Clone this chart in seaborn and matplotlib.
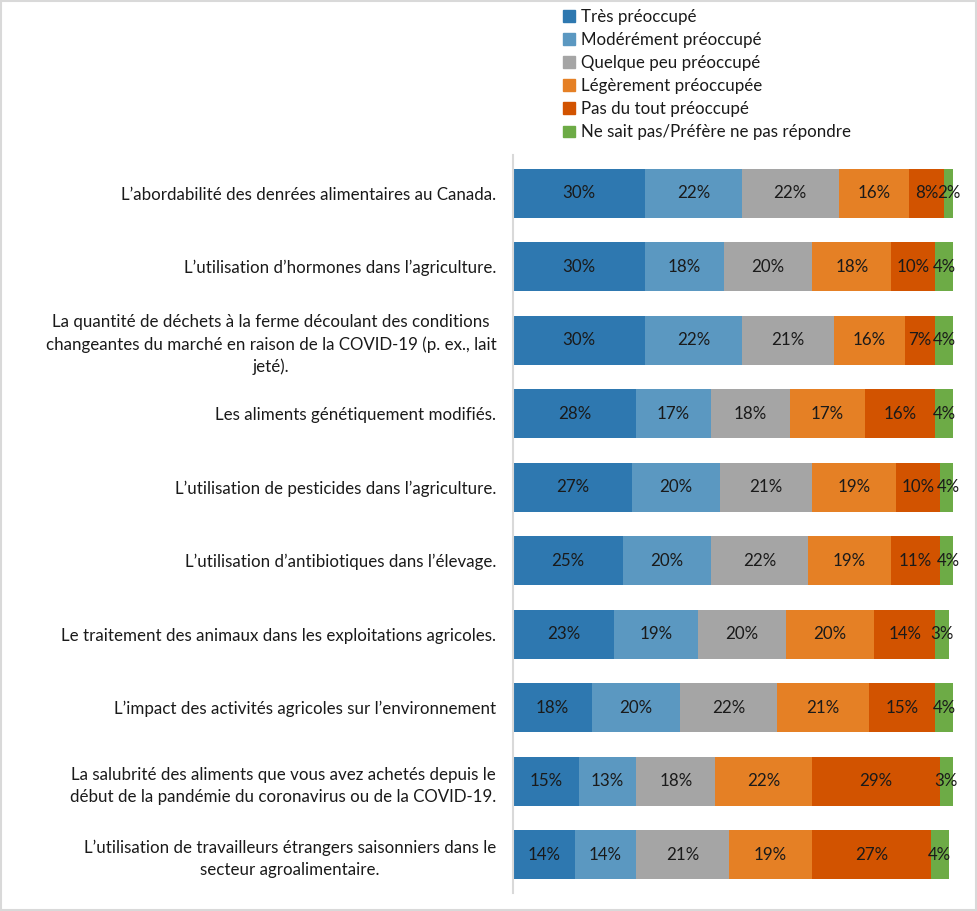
import numpy as np
import pandas as pd
import matplotlib
matplotlib.use("Agg")
import matplotlib.pyplot as plt
import seaborn as sns
from matplotlib.patches import Rectangle

categories = [
    "L’abordabilité des denrées alimentaires au Canada.",
    "L’utilisation d’hormones dans l’agriculture.",
    "La quantité de déchets à la ferme découlant des conditions\nchangeantes du marché en raison de la COVID-19 (p. ex., lait\njeté).",
    "Les aliments génétiquement modifiés.",
    "L’utilisation de pesticides dans l’agriculture.",
    "L’utilisation d’antibiotiques dans l’élevage.",
    "Le traitement des animaux dans les exploitations agricoles.",
    "L’impact des activités agricoles sur l’environnement",
    "La salubrité des aliments que vous avez achetés depuis le\ndébut de la pandémie du coronavirus ou de la COVID-19.",
    "L’utilisation de travailleurs étrangers saisonniers dans le\nsecteur agroalimentaire.",
]
series_names = [
    "Très préoccupé",
    "Modérément préoccupé",
    "Quelque peu préoccupé",
    "Légèrement préoccupée",
    "Pas du tout préoccupé",
    "Ne sait pas/Préfère ne pas répondre",
]
tres = [30, 30, 30, 28, 27, 25, 23, 18, 15, 14]
moderement = [22, 18, 22, 17, 20, 20, 19, 20, 13, 14]
quelque = [22, 20, 21, 18, 21, 22, 20, 22, 18, 21]
legerement = [16, 18, 16, 17, 19, 19, 20, 21, 22, 19]
pas_du_tout = [8, 10, 7, 16, 10, 11, 14, 15, 29, 27]
ne_sait_pas = [2, 4, 4, 4, 4, 4, 3, 4, 3, 4]

colors = ["#2E78B0", "#5B98C1", "#A5A5A5", "#E58025", "#D25300", "#6DAB46"]

sns.set_theme(style="white")
plt.rcParams["font.family"] = ["Lato", "DejaVu Sans"]

series = [tres, moderement, quelque, legerement, pas_du_tout, ne_sait_pas]
vals = np.array(series, dtype=float)
cums = np.cumsum(vals, axis=0)

fig = plt.figure(figsize=(9.77, 9.11), dpi=100)
ax = fig.add_axes([513 / 977, 1 - 893 / 911, (953 - 513) / 977, (893 - 155) / 911])

# draw cumulative totals from the largest to the smallest
for i in range(len(series) - 1, -1, -1):
    df = pd.DataFrame({"cat": categories, "val": cums[i]})
    sns.barplot(data=df, y="cat", x="val", orient="h", color=colors[i],
                width=0.67, saturation=1, ax=ax, label=series_names[i],
                edgecolor="none", linewidth=0)

# value labels
for i in range(len(series)):
    starts = cums[i] - vals[i]
    for j, v in enumerate(vals[i]):
        ax.text(starts[j] + v / 2, j, f"{int(v)}%", ha="center", va="center",
                fontsize=12.2, color="#1a1a1a")

ax.set_xlim(0, 100)
ax.set_ylim(9.52, -0.52)
ax.set_xlabel("")
ax.set_ylabel("")
ax.set_xticks([])
ax.tick_params(axis="y", length=0, pad=12, labelsize=12.2, colors="#1a1a1a")
for lab in ax.get_yticklabels():
    lab.set_multialignment("center")
    lab.set_linespacing(1.45)
for s in ["top", "right", "bottom"]:
    ax.spines[s].set_visible(False)
ax.spines["left"].set_color("#D9D9D9")
ax.spines["left"].set_linewidth(1.5)
ax.set_facecolor("white")
if ax.get_legend() is not None:
    ax.get_legend().remove()

handles = [Rectangle((0, 0), 1, 1, color=c) for c in colors]
fig.legend(handles, series_names, loc="upper left",
           bbox_to_anchor=(556 / 977, 1 - 2 / 911), frameon=False,
           fontsize=12.2, handlelength=0.7, handleheight=0.7,
           handletextpad=0.35, labelspacing=0.42, borderaxespad=0,
           labelcolor="#1a1a1a")

fig.patches.append(Rectangle((0.001, 0.001), 0.998, 0.998, transform=fig.transFigure,
                             fill=False, edgecolor="#D9D9D9", linewidth=1.5))

fig.savefig("out.png", dpi=100, facecolor="white")
